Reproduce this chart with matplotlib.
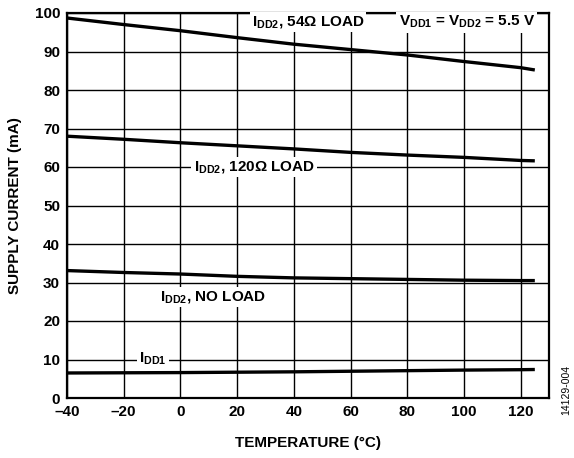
import numpy as np
import matplotlib.pyplot as plt

plt.rcParams['font.family'] = ['Liberation Sans', 'DejaVu Sans']
plt.rcParams['font.weight'] = 'bold'
plt.rcParams['mathtext.fontset'] = 'custom'
plt.rcParams['mathtext.rm'] = 'Liberation Sans:bold'
plt.rcParams['mathtext.bf'] = 'Liberation Sans:bold'
plt.rcParams['mathtext.it'] = 'Liberation Sans:bold'

# temperature (°C)
temp = [-40, -20, 0, 20, 40, 60, 80, 100, 120, 125]

# supply current (mA)
idd2_54 = [98.7, 97.0, 95.4, 93.6, 91.9, 90.5, 89.1, 87.4, 85.8, 85.2]
idd2_120 = [68.0, 67.2, 66.3, 65.5, 64.7, 63.8, 63.1, 62.5, 61.7, 61.6]
idd2_noload = [33.1, 32.6, 32.2, 31.6, 31.2, 31.0, 30.8, 30.6, 30.5, 30.5]
idd1 = [6.5, 6.55, 6.6, 6.7, 6.8, 6.95, 7.1, 7.25, 7.35, 7.4]

xticks = [-40, -20, 0, 20, 40, 60, 80, 100, 120]
yticks = [0, 10, 20, 30, 40, 50, 60, 70, 80, 90, 100]

fig = plt.figure(figsize=(5.74, 4.58), dpi=100)
ax = fig.add_axes([67/574, 1-398/458, (549-67)/574, (398-13)/458])

for y in [idd2_54, idd2_120, idd2_noload, idd1]:
    ax.plot(temp, y, color='black', lw=2.4, solid_capstyle='butt', zorder=3)

ax.set_xlim(-40, 130)
ax.set_ylim(0, 100)
ax.set_xticks(xticks)
ax.set_yticks(yticks)
ax.set_xticklabels([str(t).replace('-', '\u2013') for t in xticks])
ax.grid(True, color='black', lw=1.0)
ax.tick_params(length=0, labelsize=11, pad=5)
for s in ax.spines.values():
    s.set_linewidth(1.6)

ax.set_xlabel('TEMPERATURE (°C)', fontsize=11, fontweight='bold', labelpad=12)
ax.set_ylabel('SUPPLY CURRENT (mA)', fontsize=11, fontweight='bold', labelpad=9)

box = dict(facecolor='white', edgecolor='none', pad=1.5)
fs = 11
ax.text(45, 97.6, r'$\mathrm{I_{DD2}}$, 54Ω LOAD', fontsize=fs, ha='center', va='center', bbox=box, zorder=4)
ax.text(101, 97.6, r'$\mathrm{V_{DD1}}$ = $\mathrm{V_{DD2}}$ = 5.5 V', fontsize=fs, ha='center', va='center', bbox=box, zorder=4)
ax.text(26, 60, r'$\mathrm{I_{DD2}}$, 120Ω LOAD', fontsize=fs, ha='center', va='center', bbox=box, zorder=4)
ax.text(11.5, 26.2, r'$\mathrm{I_{DD2}}$, NO LOAD', fontsize=fs, ha='center', va='center', bbox=box, zorder=4)
ax.text(-9.7, 10.1, r'$\mathrm{I_{DD1}}$', fontsize=fs, ha='center', va='center', bbox=box, zorder=4)

fig.text(566/574, 1-390/458, '14129-004', rotation=90, fontsize=7.5, fontweight='normal',
         ha='center', va='center')

fig.savefig('out.png', dpi=100)
